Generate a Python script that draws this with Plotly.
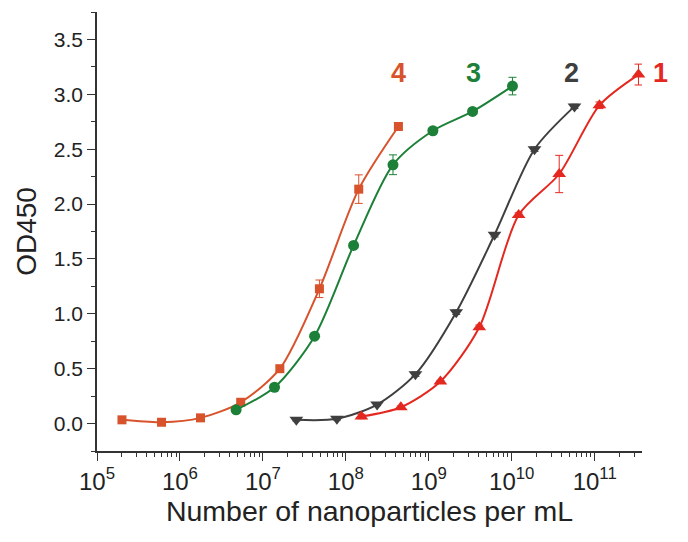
import plotly.graph_objects as go

# ---- data ----
x4 = [2.0e5, 6.0e5, 1.77e6, 5.4e6, 1.6e7, 4.8e7, 1.43e8, 4.3e8]
y4 = [0.034, 0.012, 0.052, 0.194, 0.50, 1.228, 2.136, 2.707]
e4 = [0.01, 0.01, 0.01, 0.02, 0.02, 0.08, 0.13, 0.03]

x3 = [4.75e6, 1.38e7, 4.2e7, 1.24e8, 3.7e8, 1.12e9, 3.37e9, 1.02e10]
y3 = [0.125, 0.331, 0.796, 1.623, 2.358, 2.668, 2.844, 3.075]
e3 = [0.01, 0.02, 0.02, 0.02, 0.09, 0.02, 0.02, 0.08]

x2 = [2.53e7, 7.8e7, 2.38e8, 6.9e8, 2.14e9, 6.2e9, 1.88e10, 5.7e10]
y2 = [0.034, 0.043, 0.173, 0.45, 1.015, 1.72, 2.50, 2.89]
e2 = [0.01, 0.01, 0.01, 0.02, 0.02, 0.02, 0.02, 0.02]

x1 = [1.54e8, 4.6e8, 1.38e9, 4.06e9, 1.21e10, 3.73e10, 1.14e11, 3.37e11]
y1 = [0.064, 0.149, 0.383, 0.878, 1.90, 2.274, 2.90, 3.18]
e1 = [0.02, 0.01, 0.01, 0.02, 0.02, 0.17, 0.03, 0.095]

series_labels = ["1", "2", "3", "4"]
x_tickvals = [1e5, 1e6, 1e7, 1e8, 1e9, 1e10, 1e11]
x_ticktext = ["10<sup>5</sup>", "10<sup>6</sup>", "10<sup>7</sup>", "10<sup>8</sup>",
              "10<sup>9</sup>", "10<sup>10</sup>", "10<sup>11</sup>"]
y_tickvals = [0.0, 0.5, 1.0, 1.5, 2.0, 2.5, 3.0, 3.5]
y_ticktext = ["0.0", "0.5", "1.0", "1.5", "2.0", "2.5", "3.0", "3.5"]

# ---- styles ----
C1 = "#e4281f"
C2 = "#3f3f3f"
C3 = "#1d8038"
C4 = "#d8522b"
FONT = "Liberation Sans, Arial, sans-serif"
AXC = "#333333"

fig = go.Figure()

def add(x, y, e, color, symbol, size):
    fig.add_trace(go.Scatter(
        x=x, y=y, mode="lines+markers",
        line=dict(color=color, width=2, shape="spline", smoothing=0.8),
        marker=dict(color=color, symbol=symbol, size=size, line=dict(width=0)),
        error_y=dict(type="data", array=e, visible=True, color=color,
                     thickness=1, width=4),
        showlegend=False, cliponaxis=False,
    ))

add(x4, y4, e4, C4, "square", 9)
add(x3, y3, e3, C3, "circle", 11)
add(x2, y2, e2, C2, "triangle-down", 12)
add(x1, y1, e1, C1, "triangle-up", 12)

label_pos = {"4": (0.553, C4), "3": (0.691, C3), "2": (0.870, C2), "1": (1.034, C1)}
for lab in series_labels:
    px, col = label_pos[lab]
    fig.add_annotation(x=px, y=0.861, xref="paper", yref="paper", text="<b>%s</b>" % lab,
                       showarrow=False, font=dict(family=FONT, size=27, color=col),
                       xanchor="center", yanchor="middle")

# page body adds an 8px offset; margins compensate so the plot area lands where the reference has it
fig.update_layout(
    width=688, height=542,
    margin=dict(l=88.5, r=54.3, t=4, b=99, autoexpand=False),
    paper_bgcolor="white", plot_bgcolor="white",
    font=dict(family=FONT, color="#222222"),
    xaxis=dict(
        type="log", range=[5, 11.57], automargin=False,
        tickvals=x_tickvals, ticktext=x_ticktext,
        ticks="outside", ticklen=8, tickwidth=1.3, tickcolor=AXC,
        showline=True, linecolor=AXC, linewidth=1.5,
        showgrid=False, zeroline=False,
        tickfont=dict(family=FONT, size=24, color="#222222"),
        minor=dict(ticks="outside", ticklen=4, tickwidth=1.2, tickcolor=AXC, dtick="D1", showgrid=False),
        title=dict(text="Number of nanoparticles per mL", font=dict(family=FONT, size=28.5, color="#222222"),
                   standoff=8),
    ),
    yaxis=dict(
        range=[-0.25, 3.75], automargin=False,
        tickvals=y_tickvals, ticktext=y_ticktext,
        ticks="outside", ticklen=8, tickwidth=1.3, tickcolor=AXC,
        showline=True, linecolor=AXC, linewidth=1.5,
        showgrid=False, zeroline=False,
        tickfont=dict(family=FONT, size=21, color="#222222"),
        minor=dict(ticks="outside", ticklen=4, tickwidth=1.2, tickcolor=AXC, dtick=0.25, tick0=0, showgrid=False),
        title=dict(text="OD450", font=dict(family=FONT, size=28, color="#222222"), standoff=9),
    ),
)

fig.write_html("out.html")
